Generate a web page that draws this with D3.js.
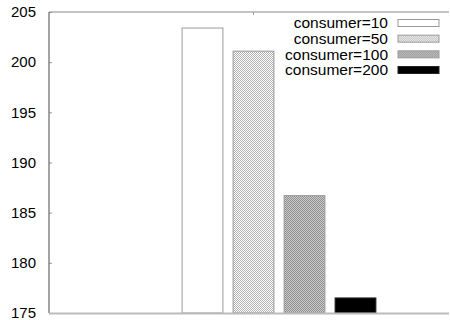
<!DOCTYPE html>
<html>
<head>
<meta charset="utf-8">
<script src="https://cdn.jsdelivr.net/npm/d3@7/dist/d3.min.js"></script>
<style>
  html, body { margin: 0; padding: 0; background: #fff; }
  svg { display: block; }
  text { font-family: "Liberation Sans", Arial, Helvetica, sans-serif; }
</style>
</head>
<body>
<svg id="chart" width="450" height="320"></svg>
<script>
// Throughput per consumer count
const categories = ["consumer=10", "consumer=50", "consumer=100", "consumer=200"];
const values = [203.4, 201.1, 186.7, 176.5];
const yTicks = [175, 180, 185, 190, 195, 200, 205];
const fills = ["url(#fill-white)", "url(#fill-light)", "url(#fill-dense)", "url(#fill-black)"];

const W = 450, H = 320;
const plot = { left: 49, right: 449, top: 12, bottom: 313 };

const svg = d3.select("#chart");
const defs = svg.append("defs");

// fill textures for the bars
function solid(id, color) {
  defs.append("pattern").attr("id", id).attr("patternUnits", "userSpaceOnUse")
    .attr("width", 2).attr("height", 2)
    .append("rect").attr("width", 2).attr("height", 2).attr("fill", color);
}
function checker(id, a, b) {
  const p = defs.append("pattern").attr("id", id).attr("patternUnits", "userSpaceOnUse")
    .attr("width", 2).attr("height", 2);
  p.append("rect").attr("width", 2).attr("height", 2).attr("fill", b);
  p.append("rect").attr("width", 1).attr("height", 1).attr("fill", a);
  p.append("rect").attr("x", 1).attr("y", 1).attr("width", 1).attr("height", 1).attr("fill", a);
}
solid("fill-white", "#ffffff");
checker("fill-light", "#b0b0b0", "#ffffff");
checker("fill-dense", "#909090", "#cacaca");
solid("fill-black", "#000000");

const y = d3.scaleLinear().domain([175, 205]).range([plot.bottom, plot.top]);
const x = d3.scaleBand().domain(categories).range([177, 381])
  .paddingInner(0.2).paddingOuter(0.1);

// bars
svg.append("g").selectAll("rect").data(categories).join("rect")
  .attr("x", d => x(d))
  .attr("y", (d, i) => y(values[i]))
  .attr("width", x.bandwidth())
  .attr("height", (d, i) => y(175) - y(values[i]))
  .attr("fill", (d, i) => fills[i])
  .attr("stroke", (d, i) => i === 3 ? "#222" : "#9a9a9a")
  .attr("stroke-width", 1);

// y axis
const yAxis = d3.axisLeft(y).tickValues(yTicks).tickSize(-3).tickPadding(13).tickFormat(d3.format("d"));
const gy = svg.append("g").attr("transform", `translate(${plot.left},0)`).call(yAxis);
gy.select(".domain").remove();
gy.selectAll(".tick line").attr("stroke", "#999");
gy.selectAll(".tick text").attr("font-size", 15).attr("fill", "#000");

// frame
svg.append("line").attr("x1", plot.left).attr("x2", plot.left).attr("y1", plot.top).attr("y2", plot.bottom)
  .attr("stroke", "#666").attr("stroke-width", 1.2);
svg.append("line").attr("x1", plot.left).attr("x2", plot.right).attr("y1", plot.top).attr("y2", plot.top)
  .attr("stroke", "#888").attr("stroke-width", 1);
svg.append("line").attr("x1", plot.left).attr("x2", plot.right).attr("y1", plot.bottom + 0.5).attr("y2", plot.bottom + 0.5)
  .attr("stroke", "#bbb").attr("stroke-width", 2);
// mirrored x tick on the top border
svg.append("line").attr("x1", 253.5).attr("x2", 253.5).attr("y1", plot.top).attr("y2", plot.top + 3)
  .attr("stroke", "#999");

// legend
const legend = svg.append("g");
const rowY = d3.scalePoint().domain(categories).range([23, 70]);
const row = legend.selectAll("g").data(categories).join("g")
  .attr("transform", d => `translate(0,${rowY(d)})`);
row.append("text")
  .attr("x", 388).attr("y", 0).attr("dy", "0.35em")
  .attr("text-anchor", "end").attr("font-size", 15.5).attr("fill", "#000")
  .text(d => d);
row.append("rect")
  .attr("x", 398).attr("y", -3.5).attr("width", 41).attr("height", 7)
  .attr("fill", (d, i) => fills[i])
  .attr("stroke", (d, i) => i === 3 ? "#222" : "#9a9a9a");
</script>
</body>
</html>
